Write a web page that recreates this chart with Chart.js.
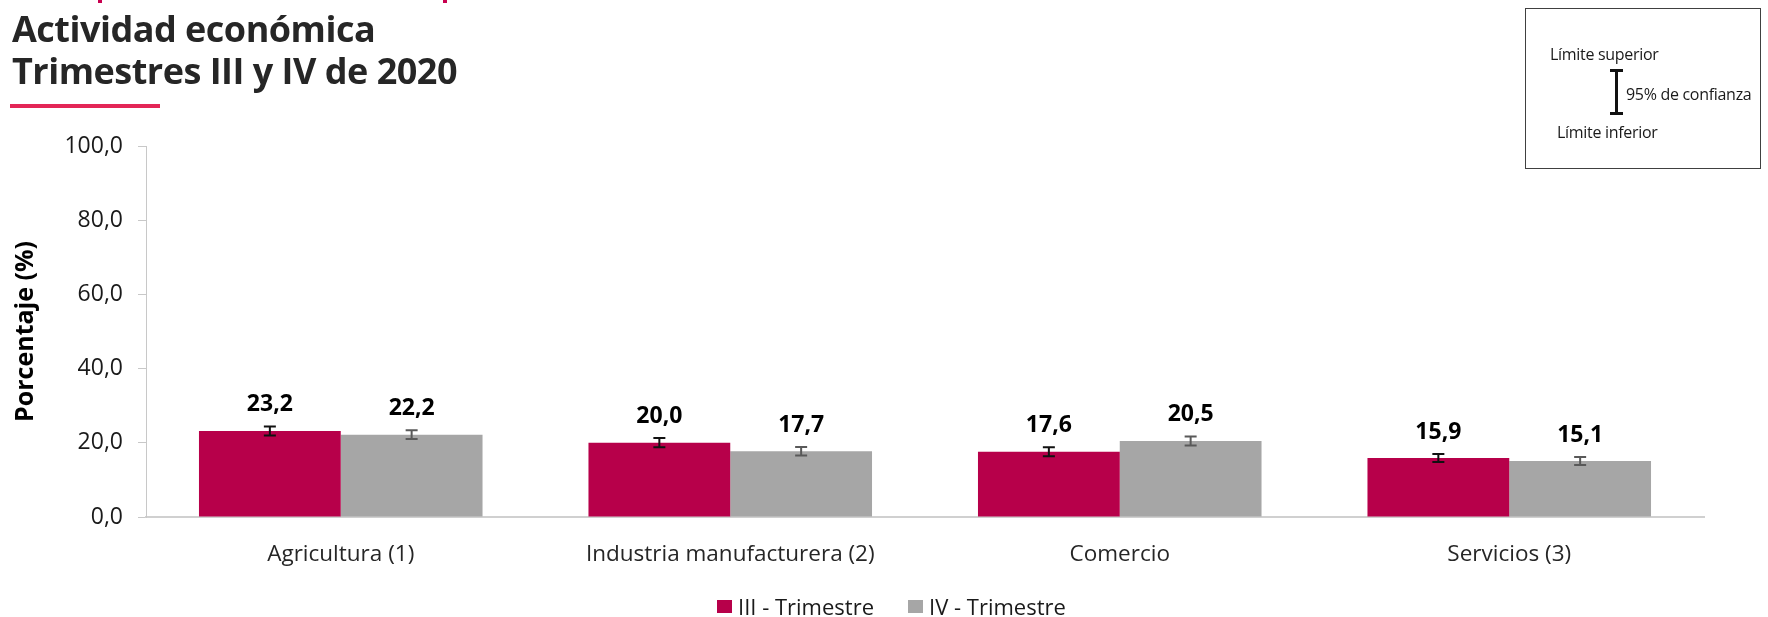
<!DOCTYPE html>
<html>
<head>
<meta charset="utf-8">
<script src="https://cdn.jsdelivr.net/npm/chart.js@4.4.1/dist/chart.umd.min.js"></script>
<style>
  html, body { margin: 0; padding: 0; background: #fff; }
  body { width: 1768px; height: 617px; position: relative; overflow: hidden; font-family: "Open Sans", sans-serif; }
  #wrap { position: absolute; left: 0; top: 0; width: 1768px; height: 617px; }
  .title { position: absolute; left: 12px; font-weight: 700; font-size: 36px; color: #262626; white-space: nowrap; line-height: 1; letter-spacing: -0.5px; }
  .uline { position: absolute; left: 10px; top: 104px; width: 150px; height: 4px; background: #e32657; }
  .pk { position: absolute; top: 0; width: 4px; height: 3px; background: #c8004f; }
  .box { position: absolute; left: 1525px; top: 8px; width: 236px; height: 161px; border: 1px solid #404040; box-sizing: border-box; }
  .bt { position: absolute; font-size: 16px; color: #1a1a1a; white-space: nowrap; line-height: 1; font-family: "Open Sans", sans-serif; letter-spacing: -0.3px; }
  .ebv { position: absolute; left: 1615px; top: 70px; width: 2.5px; height: 44px; background: #111; }
  .ebc { position: absolute; width: 13px; height: 2.5px; background: #111; left: 1610px; }
  #legend { position: absolute; left: 717px; top: 592px; height: 28px; display: flex; align-items: center; font-size: 22px; color: #1a1a1a; white-space: nowrap; }
  #legend .it { display: flex; align-items: center; margin-right: 34px; }
  #legend .sw { width: 15px; height: 13px; margin-right: 6px; }
</style>
</head>
<body>
<div id="wrap"><canvas id="c" width="1768" height="617"></canvas></div>
<div class="pk" style="left:98px"></div>
<div class="pk" style="left:443px"></div>
<div class="title" style="top:11px">Actividad económica</div>
<div class="title" style="top:53px">Trimestres III y IV de 2020</div>
<div class="uline"></div>
<div class="box"></div>
<div class="bt" style="left:1550px; top:46px">Límite superior</div>
<div class="ebv"></div>
<div class="ebc" style="top:69px"></div>
<div class="ebc" style="top:112px"></div>
<div class="bt" style="left:1626px; top:86px">95% de confianza</div>
<div class="bt" style="left:1557px; top:124px">Límite inferior</div>
<div id="legend"></div>
<script>
const categories = ["Agricultura (1)", "Industria manufacturera (2)", "Comercio", "Servicios (3)"];
const seriesNames = ["III - Trimestre", "IV - Trimestre"];
const trim3 = [23.2, 20.0, 17.6, 15.9];
const trim4 = [22.2, 17.7, 20.5, 15.1];
const trim3Low = [22.0, 18.8, 16.4, 14.8];
const trim3High = [24.4, 21.3, 18.8, 17.0];
const trim4Low = [21.0, 16.6, 19.3, 14.0];
const trim4High = [23.4, 18.9, 21.7, 16.2];
const yTicks = [0, 20, 40, 60, 80, 100];

const seriesColors = ['#b7004a', '#a6a6a6'];
const lows = [trim3Low, trim4Low];
const highs = [trim3High, trim4High];
const errColors = ['#111111', '#595959'];

const fmt = v => v.toFixed(1).replace('.', ',');

const errPlugin = {
  id: 'errbars',
  afterDatasetsDraw(chart) {
    const ctx = chart.ctx;
    const y = chart.scales.y;
    chart.data.datasets.forEach((ds, di) => {
      const meta = chart.getDatasetMeta(di);
      meta.data.forEach((bar, i) => {
        const yl = y.getPixelForValue(lows[di][i]);
        const yh = y.getPixelForValue(highs[di][i]);
        const x = bar.x;
        ctx.save();
        ctx.strokeStyle = errColors[di];
        ctx.lineWidth = 2;
        ctx.beginPath();
        ctx.moveTo(x, yl); ctx.lineTo(x, yh);
        ctx.moveTo(x - 6, yl); ctx.lineTo(x + 6, yl);
        ctx.moveTo(x - 6, yh); ctx.lineTo(x + 6, yh);
        ctx.stroke();
        ctx.fillStyle = '#000';
        ctx.font = '700 23px "Open Sans", sans-serif';
        ctx.textAlign = 'center';
        ctx.textBaseline = 'middle';
        ctx.fillText(fmt(ds.data[i]), x, bar.y - 26);
        ctx.restore();
      });
    });
  }
};

const chart = new Chart(document.getElementById('c'), {
  type: 'bar',
  data: {
    labels: categories,
    datasets: [
      { label: seriesNames[0], data: trim3, backgroundColor: seriesColors[0] },
      { label: seriesNames[1], data: trim4, backgroundColor: seriesColors[1] }
    ]
  },
  options: {
    responsive: false,
    animation: false,
    devicePixelRatio: 1,
    layout: { padding: { left: 0, right: 64, top: 146, bottom: 34 } },
    datasets: { bar: { barPercentage: 1.0, categoryPercentage: 0.728 } },
    plugins: {
      legend: { display: false },
      tooltip: { enabled: false }
    },
    scales: {
      x: {
        grid: { display: false, drawTicks: false },
        border: { display: true, color: '#d0d0d0', width: 2 },
        ticks: { font: { family: '"Open Sans", sans-serif', size: 22.5 }, color: '#262626', padding: 24, maxRotation: 0 },
        afterFit(s) { s.height = 66; }
      },
      y: {
        min: 0, max: 100,
        afterBuildTicks(s) { s.ticks = yTicks.map(v => ({ value: v })); },
        grid: { drawOnChartArea: false, drawTicks: true, tickLength: 8, color: '#c8c8c8', lineWidth: 1 },
        border: { display: true, color: '#c8c8c8', width: 1 },
        ticks: {
          font: { family: '"Open Sans", sans-serif', size: 23 },
          color: '#1a1a1a',
          padding: 15,
          callback: v => fmt(v)
        },
        title: {
          display: true,
          text: 'Porcentaje (%)',
          font: { family: '"Open Sans", sans-serif', size: 25, weight: '700' },
          color: '#000',
          padding: { top: 11, bottom: 0 }
        },
        afterFit(s) { s.width = 146; }
      }
    }
  },
  plugins: [errPlugin]
});

// HTML legend built from the chart's datasets
const leg = document.getElementById('legend');
chart.data.datasets.forEach(ds => {
  const it = document.createElement('div'); it.className = 'it';
  const sw = document.createElement('div'); sw.className = 'sw'; sw.style.background = ds.backgroundColor;
  const tx = document.createElement('span'); tx.textContent = ds.label;
  it.appendChild(sw); it.appendChild(tx); leg.appendChild(it);
});
</script>
</body>
</html>
